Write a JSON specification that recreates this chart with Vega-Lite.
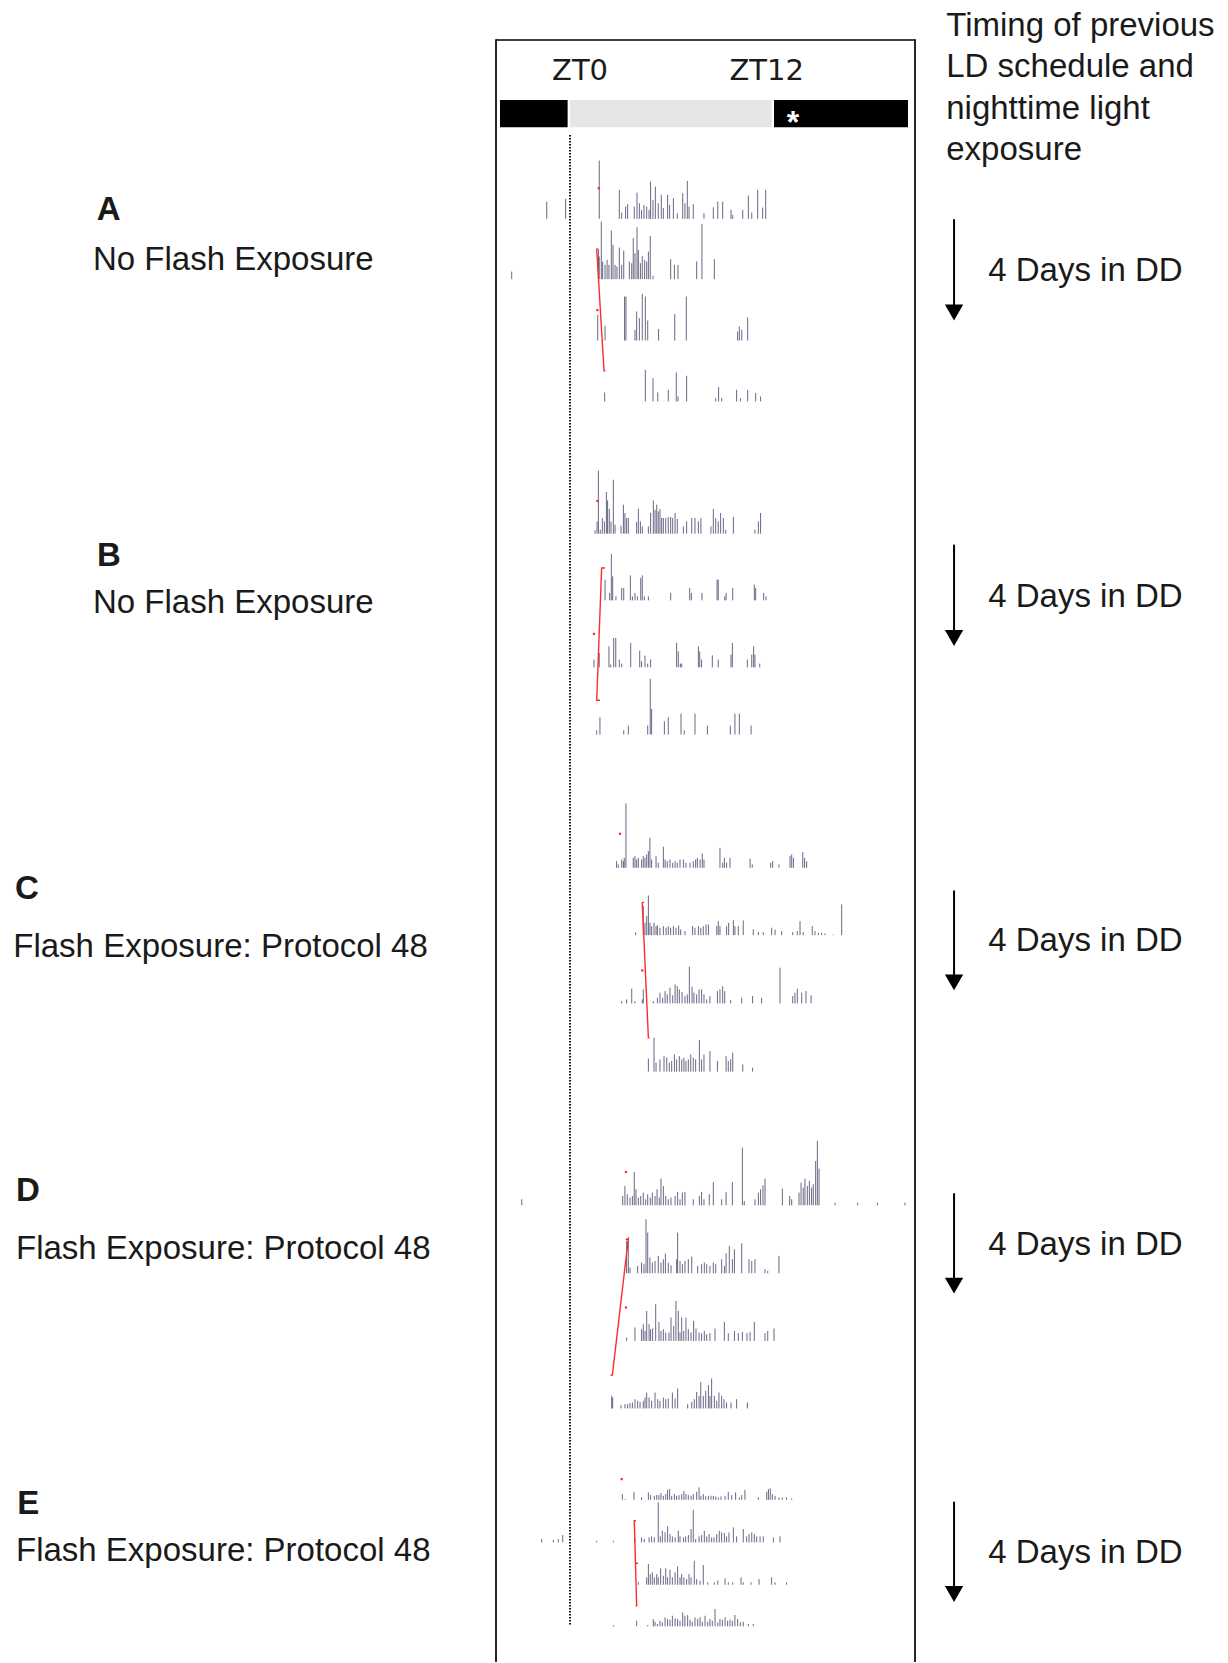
{
"$schema": "https://vega.github.io/schema/vega-lite/v6.json",
"width": 1228, "height": 1663,
"autosize": {"type": "fit", "contains": "padding"},
"padding": 0,
"background": "white",
"config": {"view": {"stroke": null}},
"datasets": {
"box": [
{"t":-4.294,"t2":-4.294,"y":39.15,"y2":1663},
{"t":20.353,"t2":20.353,"y":39.15,"y2":1663},
{"t":-4.294,"t2":20.353,"y":40,"y2":40}
],
"phases": [
{"t":-4.06,"t2":-0.08,"y":100,"y2":127.3,"ph":"dark"},
{"t":0.06,"t2":11.94,"y":100,"y2":127.3,"ph":"light"},
{"t":12.06,"t2":19.94,"y":100,"y2":127.3,"ph":"dark"}
],
"zt0line": [{"t":0.06,"y":135,"y2":1627}],
"bars": [
{"r":"A1","t":-1.31,"b":219,"u":201.7},{"r":"A1","t":-0.2,"b":219,"u":199},{"r":"A1","t":1.78,"b":219,"u":160.7},{"r":"A1","t":2.96,"b":219,"u":190},{"r":"A1","t":3.1,"b":219,"u":212.7},{"r":"A1","t":3.33,"b":219,"u":206.7},{"r":"A1","t":3.45,"b":219,"u":204.3},{"r":"A1","t":3.84,"b":219,"u":206.7},{"r":"A1","t":4.0,"b":219,"u":192.7},{"r":"A1","t":4.14,"b":219,"u":203.3},{"r":"A1","t":4.27,"b":219,"u":210},{"r":"A1","t":4.41,"b":219,"u":205},{"r":"A1","t":4.57,"b":219,"u":206.7},{"r":"A1","t":4.71,"b":219,"u":210},{"r":"A1","t":4.8,"b":219,"u":181.7},{"r":"A1","t":4.94,"b":219,"u":200},{"r":"A1","t":5.08,"b":219,"u":186.7},{"r":"A1","t":5.25,"b":219,"u":203.3},{"r":"A1","t":5.43,"b":219,"u":195},{"r":"A1","t":5.55,"b":219,"u":208.3},{"r":"A1","t":5.8,"b":219,"u":195},{"r":"A1","t":5.92,"b":219,"u":205},{"r":"A1","t":6.14,"b":219,"u":198.3},{"r":"A1","t":6.37,"b":219,"u":213.3},{"r":"A1","t":6.69,"b":219,"u":193.3},{"r":"A1","t":6.82,"b":219,"u":203.3},{"r":"A1","t":6.96,"b":219,"u":181},{"r":"A1","t":7.06,"b":219,"u":206.7},{"r":"A1","t":7.31,"b":219,"u":204.3},{"r":"A1","t":7.94,"b":219,"u":213.3},{"r":"A1","t":8.49,"b":219,"u":207.3},{"r":"A1","t":8.75,"b":219,"u":201.7},{"r":"A1","t":9.04,"b":219,"u":201.7},{"r":"A1","t":9.53,"b":219,"u":210},{"r":"A1","t":9.63,"b":219,"u":215},{"r":"A1","t":10.22,"b":219,"u":210},{"r":"A1","t":10.55,"b":219,"u":195.7},{"r":"A1","t":10.75,"b":219,"u":212.7},{"r":"A1","t":11.1,"b":219,"u":190},{"r":"A1","t":11.39,"b":219,"u":207.7},{"r":"A1","t":11.57,"b":219,"u":190},
{"r":"A2","t":-3.37,"b":279.3,"u":271.7},{"r":"A2","t":1.73,"b":279.3,"u":250},{"r":"A2","t":1.78,"b":279.3,"u":256.7},{"r":"A2","t":1.9,"b":279.3,"u":221.7},{"r":"A2","t":1.98,"b":279.3,"u":261.7},{"r":"A2","t":2.12,"b":279.3,"u":265},{"r":"A2","t":2.24,"b":279.3,"u":260},{"r":"A2","t":2.35,"b":279.3,"u":265},{"r":"A2","t":2.49,"b":279.3,"u":230.7},{"r":"A2","t":2.59,"b":279.3,"u":245},{"r":"A2","t":2.71,"b":279.3,"u":265},{"r":"A2","t":2.82,"b":279.3,"u":266.7},{"r":"A2","t":2.96,"b":279.3,"u":247.7},{"r":"A2","t":3.1,"b":279.3,"u":265},{"r":"A2","t":3.22,"b":279.3,"u":250.7},{"r":"A2","t":3.55,"b":279.3,"u":261.7},{"r":"A2","t":3.69,"b":279.3,"u":263.3},{"r":"A2","t":3.78,"b":279.3,"u":238.3},{"r":"A2","t":3.88,"b":279.3,"u":253.3},{"r":"A2","t":4.0,"b":279.3,"u":227.3},{"r":"A2","t":4.08,"b":279.3,"u":250},{"r":"A2","t":4.2,"b":279.3,"u":263.3},{"r":"A2","t":4.31,"b":279.3,"u":256},{"r":"A2","t":4.45,"b":279.3,"u":260},{"r":"A2","t":4.57,"b":279.3,"u":261.7},{"r":"A2","t":4.67,"b":279.3,"u":251.7},{"r":"A2","t":4.78,"b":279.3,"u":236},{"r":"A2","t":4.94,"b":279.3,"u":276},{"r":"A2","t":5.98,"b":279.3,"u":259.3},{"r":"A2","t":6.2,"b":279.3,"u":265},{"r":"A2","t":6.41,"b":279.3,"u":265},{"r":"A2","t":7.51,"b":279.3,"u":261.7},{"r":"A2","t":7.82,"b":279.3,"u":224},{"r":"A2","t":8.55,"b":279.3,"u":259.3},
{"r":"A3","t":1.69,"b":340.7,"u":315},{"r":"A3","t":2.12,"b":340.7,"u":326},{"r":"A3","t":3.27,"b":340.7,"u":296.7},{"r":"A3","t":3.35,"b":340.7,"u":296.7},{"r":"A3","t":3.88,"b":340.7,"u":330},{"r":"A3","t":3.98,"b":340.7,"u":311.7},{"r":"A3","t":4.14,"b":340.7,"u":318.3},{"r":"A3","t":4.31,"b":340.7,"u":294},{"r":"A3","t":4.49,"b":340.7,"u":296.7},{"r":"A3","t":4.63,"b":340.7,"u":320.7},{"r":"A3","t":5.27,"b":340.7,"u":329.3},{"r":"A3","t":6.22,"b":340.7,"u":314.3},{"r":"A3","t":6.9,"b":340.7,"u":296.7},{"r":"A3","t":9.92,"b":340.7,"u":331.7},{"r":"A3","t":10.02,"b":340.7,"u":326.7},{"r":"A3","t":10.16,"b":340.7,"u":330},{"r":"A3","t":10.51,"b":340.7,"u":317.7},
{"r":"A4","t":2.1,"b":401.7,"u":392.7},{"r":"A4","t":4.49,"b":401.7,"u":370},{"r":"A4","t":4.94,"b":401.7,"u":378.3},{"r":"A4","t":5.22,"b":401.7,"u":392.7},{"r":"A4","t":5.84,"b":401.7,"u":390},{"r":"A4","t":6.31,"b":401.7,"u":372.7},{"r":"A4","t":6.41,"b":401.7,"u":396.7},{"r":"A4","t":6.92,"b":401.7,"u":376},{"r":"A4","t":8.63,"b":401.7,"u":398.3},{"r":"A4","t":8.8,"b":401.7,"u":387.3},{"r":"A4","t":8.98,"b":401.7,"u":398.3},{"r":"A4","t":9.86,"b":401.7,"u":390},{"r":"A4","t":10.08,"b":401.7,"u":398.3},{"r":"A4","t":10.51,"b":401.7,"u":390},{"r":"A4","t":10.98,"b":401.7,"u":393.3},{"r":"A4","t":11.27,"b":401.7,"u":396.7},
{"r":"B1","t":1.53,"b":534,"u":530.7},{"r":"B1","t":1.65,"b":534,"u":521.7},{"r":"B1","t":1.73,"b":534,"u":471},{"r":"B1","t":1.84,"b":534,"u":530},{"r":"B1","t":1.96,"b":534,"u":518.3},{"r":"B1","t":2.08,"b":534,"u":521.7},{"r":"B1","t":2.2,"b":534,"u":492.3},{"r":"B1","t":2.27,"b":534,"u":500.7},{"r":"B1","t":2.37,"b":534,"u":509},{"r":"B1","t":2.47,"b":534,"u":521.7},{"r":"B1","t":2.61,"b":534,"u":480},{"r":"B1","t":2.71,"b":534,"u":525},{"r":"B1","t":3.06,"b":534,"u":526},{"r":"B1","t":3.2,"b":534,"u":505},{"r":"B1","t":3.29,"b":534,"u":513.3},{"r":"B1","t":3.39,"b":534,"u":518.3},{"r":"B1","t":3.49,"b":534,"u":518.3},{"r":"B1","t":3.98,"b":534,"u":522.3},{"r":"B1","t":4.08,"b":534,"u":509},{"r":"B1","t":4.2,"b":534,"u":521.7},{"r":"B1","t":4.31,"b":534,"u":526.7},{"r":"B1","t":4.67,"b":534,"u":526.7},{"r":"B1","t":4.8,"b":534,"u":513.3},{"r":"B1","t":4.96,"b":534,"u":500.7},{"r":"B1","t":5.06,"b":534,"u":510},{"r":"B1","t":5.16,"b":534,"u":505},{"r":"B1","t":5.25,"b":534,"u":511.7},{"r":"B1","t":5.35,"b":534,"u":509.3},{"r":"B1","t":5.45,"b":534,"u":518.3},{"r":"B1","t":5.55,"b":534,"u":518.3},{"r":"B1","t":5.69,"b":534,"u":518.3},{"r":"B1","t":5.84,"b":534,"u":517.3},{"r":"B1","t":5.98,"b":534,"u":517.3},{"r":"B1","t":6.1,"b":534,"u":518.3},{"r":"B1","t":6.24,"b":534,"u":513.3},{"r":"B1","t":6.37,"b":534,"u":519.3},{"r":"B1","t":6.73,"b":534,"u":526.7},{"r":"B1","t":6.92,"b":534,"u":521.7},{"r":"B1","t":7.22,"b":534,"u":518.3},{"r":"B1","t":7.41,"b":534,"u":518.3},{"r":"B1","t":7.61,"b":534,"u":521.7},{"r":"B1","t":7.76,"b":534,"u":518.3},{"r":"B1","t":8.35,"b":534,"u":526.7},{"r":"B1","t":8.49,"b":534,"u":509.3},{"r":"B1","t":8.63,"b":534,"u":518.3},{"r":"B1","t":8.78,"b":534,"u":521.7},{"r":"B1","t":8.92,"b":534,"u":513.3},{"r":"B1","t":9.08,"b":534,"u":518.3},{"r":"B1","t":9.22,"b":534,"u":530},{"r":"B1","t":9.67,"b":534,"u":517.3},{"r":"B1","t":10.94,"b":534,"u":530},{"r":"B1","t":11.14,"b":534,"u":521.7},{"r":"B1","t":11.27,"b":534,"u":513.3},
{"r":"B2","t":2.12,"b":600.7,"u":580},{"r":"B2","t":2.39,"b":600.7,"u":593.3},{"r":"B2","t":2.49,"b":600.7,"u":554.3},{"r":"B2","t":2.57,"b":600.7,"u":576.7},{"r":"B2","t":2.76,"b":600.7,"u":596.7},{"r":"B2","t":3.1,"b":600.7,"u":588.3},{"r":"B2","t":3.22,"b":600.7,"u":588.3},{"r":"B2","t":3.61,"b":600.7,"u":575.7},{"r":"B2","t":3.73,"b":600.7,"u":596.7},{"r":"B2","t":3.88,"b":600.7,"u":593.3},{"r":"B2","t":4.02,"b":600.7,"u":596.7},{"r":"B2","t":4.22,"b":600.7,"u":578.3},{"r":"B2","t":4.31,"b":600.7,"u":575.7},{"r":"B2","t":4.43,"b":600.7,"u":596.7},{"r":"B2","t":4.67,"b":600.7,"u":596.7},{"r":"B2","t":5.98,"b":600.7,"u":593.3},{"r":"B2","t":7.1,"b":600.7,"u":588.3},{"r":"B2","t":7.2,"b":600.7,"u":593.3},{"r":"B2","t":7.82,"b":600.7,"u":593.3},{"r":"B2","t":8.71,"b":600.7,"u":580},{"r":"B2","t":8.78,"b":600.7,"u":580},{"r":"B2","t":9.16,"b":600.7,"u":596.7},{"r":"B2","t":9.24,"b":600.7,"u":593.3},{"r":"B2","t":9.63,"b":600.7,"u":588.3},{"r":"B2","t":10.9,"b":600.7,"u":585},{"r":"B2","t":10.98,"b":600.7,"u":588.3},{"r":"B2","t":11.45,"b":600.7,"u":593.3},{"r":"B2","t":11.59,"b":600.7,"u":596.7},
{"r":"B3","t":1.47,"b":667.7,"u":660},{"r":"B3","t":1.78,"b":667.7,"u":653.3},{"r":"B3","t":2.35,"b":667.7,"u":646.7},{"r":"B3","t":2.45,"b":667.7,"u":665},{"r":"B3","t":2.63,"b":667.7,"u":638.3},{"r":"B3","t":2.75,"b":667.7,"u":638.3},{"r":"B3","t":2.96,"b":667.7,"u":660},{"r":"B3","t":3.1,"b":667.7,"u":664},{"r":"B3","t":3.63,"b":667.7,"u":643.3},{"r":"B3","t":4.16,"b":667.7,"u":651},{"r":"B3","t":4.27,"b":667.7,"u":661.7},{"r":"B3","t":4.47,"b":667.7,"u":656},{"r":"B3","t":4.63,"b":667.7,"u":664},{"r":"B3","t":4.8,"b":667.7,"u":660},{"r":"B3","t":6.33,"b":667.7,"u":643.3},{"r":"B3","t":6.43,"b":667.7,"u":651.7},{"r":"B3","t":6.55,"b":667.7,"u":664},{"r":"B3","t":6.63,"b":667.7,"u":664},{"r":"B3","t":7.61,"b":667.7,"u":646.7},{"r":"B3","t":7.69,"b":667.7,"u":651.7},{"r":"B3","t":7.8,"b":667.7,"u":660},{"r":"B3","t":8.43,"b":667.7,"u":655.7},{"r":"B3","t":8.78,"b":667.7,"u":660},{"r":"B3","t":9.53,"b":667.7,"u":655},{"r":"B3","t":9.61,"b":667.7,"u":643.3},{"r":"B3","t":10.49,"b":667.7,"u":660},{"r":"B3","t":10.75,"b":667.7,"u":655},{"r":"B3","t":10.86,"b":667.7,"u":646.7},{"r":"B3","t":10.94,"b":667.7,"u":655},{"r":"B3","t":11.22,"b":667.7,"u":664},
{"r":"B4","t":1.63,"b":735,"u":730.7},{"r":"B4","t":1.82,"b":735,"u":717.7},{"r":"B4","t":3.22,"b":735,"u":730.7},{"r":"B4","t":3.49,"b":735,"u":726},{"r":"B4","t":4.63,"b":735,"u":726},{"r":"B4","t":4.78,"b":735,"u":679.3},{"r":"B4","t":4.86,"b":735,"u":709.3},{"r":"B4","t":5.61,"b":735,"u":721.7},{"r":"B4","t":5.84,"b":735,"u":717.7},{"r":"B4","t":6.59,"b":735,"u":714},{"r":"B4","t":6.78,"b":735,"u":730.7},{"r":"B4","t":7.41,"b":735,"u":714},{"r":"B4","t":8.14,"b":735,"u":726},{"r":"B4","t":9.49,"b":735,"u":726},{"r":"B4","t":9.76,"b":735,"u":714},{"r":"B4","t":10.02,"b":735,"u":714},{"r":"B4","t":10.71,"b":735,"u":726},
{"r":"C1","t":2.8,"b":868.3,"u":861.7},{"r":"C1","t":2.9,"b":868.3,"u":865},{"r":"C1","t":3.1,"b":868.3,"u":860},{"r":"C1","t":3.2,"b":868.3,"u":861.7},{"r":"C1","t":3.25,"b":868.3,"u":858.3},{"r":"C1","t":3.35,"b":868.3,"u":804},{"r":"C1","t":3.78,"b":868.3,"u":858.3},{"r":"C1","t":3.88,"b":868.3,"u":856.7},{"r":"C1","t":3.98,"b":868.3,"u":860},{"r":"C1","t":4.08,"b":868.3,"u":858.3},{"r":"C1","t":4.27,"b":868.3,"u":860},{"r":"C1","t":4.37,"b":868.3,"u":856.7},{"r":"C1","t":4.47,"b":868.3,"u":858.3},{"r":"C1","t":4.57,"b":868.3,"u":855},{"r":"C1","t":4.67,"b":868.3,"u":851.7},{"r":"C1","t":4.76,"b":868.3,"u":838.3},{"r":"C1","t":4.86,"b":868.3,"u":860},{"r":"C1","t":5.12,"b":868.3,"u":856.7},{"r":"C1","t":5.25,"b":868.3,"u":863.3},{"r":"C1","t":5.55,"b":868.3,"u":847.3},{"r":"C1","t":5.65,"b":868.3,"u":860},{"r":"C1","t":5.78,"b":868.3,"u":861.7},{"r":"C1","t":5.94,"b":868.3,"u":860},{"r":"C1","t":6.1,"b":868.3,"u":863.3},{"r":"C1","t":6.24,"b":868.3,"u":861.7},{"r":"C1","t":6.37,"b":868.3,"u":863.3},{"r":"C1","t":6.53,"b":868.3,"u":860},{"r":"C1","t":6.73,"b":868.3,"u":860},{"r":"C1","t":6.88,"b":868.3,"u":863.3},{"r":"C1","t":7.12,"b":868.3,"u":863.3},{"r":"C1","t":7.31,"b":868.3,"u":861.7},{"r":"C1","t":7.45,"b":868.3,"u":860},{"r":"C1","t":7.55,"b":868.3,"u":858.3},{"r":"C1","t":7.71,"b":868.3,"u":860},{"r":"C1","t":7.84,"b":868.3,"u":854},{"r":"C1","t":7.94,"b":868.3,"u":860},{"r":"C1","t":8.88,"b":868.3,"u":848.3},{"r":"C1","t":9.04,"b":868.3,"u":863.3},{"r":"C1","t":9.14,"b":868.3,"u":858.3},{"r":"C1","t":9.27,"b":868.3,"u":863.3},{"r":"C1","t":9.47,"b":868.3,"u":858.3},{"r":"C1","t":10.65,"b":868.3,"u":859.3},{"r":"C1","t":10.78,"b":868.3,"u":865},{"r":"C1","t":11.86,"b":868.3,"u":863.3},{"r":"C1","t":11.98,"b":868.3,"u":861.7},{"r":"C1","t":12.35,"b":868.3,"u":865},{"r":"C1","t":13.0,"b":868.3,"u":856.7},{"r":"C1","t":13.1,"b":868.3,"u":855},{"r":"C1","t":13.2,"b":868.3,"u":858.3},{"r":"C1","t":13.75,"b":868.3,"u":852.7},{"r":"C1","t":13.86,"b":868.3,"u":858.3},{"r":"C1","t":13.98,"b":868.3,"u":861.7},
{"r":"C2","t":3.92,"b":935.7,"u":932.7},{"r":"C2","t":4.37,"b":935.7,"u":906.7},{"r":"C2","t":4.47,"b":935.7,"u":923.3},{"r":"C2","t":4.57,"b":935.7,"u":916.7},{"r":"C2","t":4.67,"b":935.7,"u":896},{"r":"C2","t":4.76,"b":935.7,"u":923.3},{"r":"C2","t":4.86,"b":935.7,"u":926.7},{"r":"C2","t":5.0,"b":935.7,"u":923.3},{"r":"C2","t":5.12,"b":935.7,"u":926.7},{"r":"C2","t":5.2,"b":935.7,"u":926},{"r":"C2","t":5.35,"b":935.7,"u":928.3},{"r":"C2","t":5.55,"b":935.7,"u":926.7},{"r":"C2","t":5.71,"b":935.7,"u":928.3},{"r":"C2","t":5.84,"b":935.7,"u":926.7},{"r":"C2","t":5.98,"b":935.7,"u":928.3},{"r":"C2","t":6.14,"b":935.7,"u":926.7},{"r":"C2","t":6.29,"b":935.7,"u":928.3},{"r":"C2","t":6.45,"b":935.7,"u":926},{"r":"C2","t":6.57,"b":935.7,"u":930},{"r":"C2","t":6.82,"b":935.7,"u":931.7},{"r":"C2","t":7.27,"b":935.7,"u":926.7},{"r":"C2","t":7.41,"b":935.7,"u":928.3},{"r":"C2","t":7.61,"b":935.7,"u":926.7},{"r":"C2","t":7.75,"b":935.7,"u":928.3},{"r":"C2","t":7.9,"b":935.7,"u":926.7},{"r":"C2","t":8.06,"b":935.7,"u":925},{"r":"C2","t":8.2,"b":935.7,"u":925},{"r":"C2","t":8.69,"b":935.7,"u":926.7},{"r":"C2","t":8.78,"b":935.7,"u":921.7},{"r":"C2","t":8.88,"b":935.7,"u":926.7},{"r":"C2","t":9.27,"b":935.7,"u":926.7},{"r":"C2","t":9.39,"b":935.7,"u":923.3},{"r":"C2","t":9.67,"b":935.7,"u":920.7},{"r":"C2","t":9.76,"b":935.7,"u":926.7},{"r":"C2","t":9.96,"b":935.7,"u":926.7},{"r":"C2","t":10.25,"b":935.7,"u":921},{"r":"C2","t":10.84,"b":935.7,"u":930},{"r":"C2","t":11.14,"b":935.7,"u":932.7},{"r":"C2","t":11.43,"b":935.7,"u":932.7},{"r":"C2","t":11.92,"b":935.7,"u":928.3},{"r":"C2","t":12.12,"b":935.7,"u":930},{"r":"C2","t":12.51,"b":935.7,"u":931.7},{"r":"C2","t":13.16,"b":935.7,"u":932.7},{"r":"C2","t":13.43,"b":935.7,"u":931.7},{"r":"C2","t":13.59,"b":935.7,"u":921.7},{"r":"C2","t":13.78,"b":935.7,"u":932.7},{"r":"C2","t":14.31,"b":935.7,"u":926.7},{"r":"C2","t":14.47,"b":935.7,"u":931.7},{"r":"C2","t":14.67,"b":935.7,"u":933.3},{"r":"C2","t":14.86,"b":935.7,"u":933.3},{"r":"C2","t":15.06,"b":935.7,"u":934},{"r":"C2","t":15.55,"b":935.7,"u":935},{"r":"C2","t":16.04,"b":935.7,"u":905},
{"r":"C3","t":3.1,"b":1004,"u":1001.7},{"r":"C3","t":3.39,"b":1004,"u":1000},{"r":"C3","t":3.69,"b":1004,"u":989.3},{"r":"C3","t":3.88,"b":1004,"u":1001.7},{"r":"C3","t":4.31,"b":1004,"u":1000},{"r":"C3","t":4.37,"b":1004,"u":990},{"r":"C3","t":4.96,"b":1004,"u":1001.7},{"r":"C3","t":5.2,"b":1004,"u":998.3},{"r":"C3","t":5.35,"b":1004,"u":993.3},{"r":"C3","t":5.51,"b":1004,"u":998.3},{"r":"C3","t":5.65,"b":1004,"u":991.7},{"r":"C3","t":5.78,"b":1004,"u":995},{"r":"C3","t":5.94,"b":1004,"u":988.3},{"r":"C3","t":6.1,"b":1004,"u":996},{"r":"C3","t":6.24,"b":1004,"u":985},{"r":"C3","t":6.37,"b":1004,"u":986.7},{"r":"C3","t":6.49,"b":1004,"u":990},{"r":"C3","t":6.65,"b":1004,"u":992.7},{"r":"C3","t":6.82,"b":1004,"u":996.7},{"r":"C3","t":6.96,"b":1004,"u":995},{"r":"C3","t":7.08,"b":1004,"u":967.3},{"r":"C3","t":7.24,"b":1004,"u":987.3},{"r":"C3","t":7.35,"b":1004,"u":993.3},{"r":"C3","t":7.51,"b":1004,"u":995},{"r":"C3","t":7.65,"b":1004,"u":990},{"r":"C3","t":7.8,"b":1004,"u":990},{"r":"C3","t":7.94,"b":1004,"u":995},{"r":"C3","t":8.1,"b":1004,"u":1000},{"r":"C3","t":8.29,"b":1004,"u":996.7},{"r":"C3","t":8.73,"b":1004,"u":991.7},{"r":"C3","t":8.88,"b":1004,"u":990},{"r":"C3","t":9.04,"b":1004,"u":986.7},{"r":"C3","t":9.16,"b":1004,"u":991.7},{"r":"C3","t":9.51,"b":1004,"u":1000.7},{"r":"C3","t":10.16,"b":1004,"u":998.3},{"r":"C3","t":10.8,"b":1004,"u":996.7},{"r":"C3","t":11.33,"b":1004,"u":998.3},{"r":"C3","t":12.41,"b":1004,"u":968.3},{"r":"C3","t":13.16,"b":1004,"u":996.7},{"r":"C3","t":13.29,"b":1004,"u":993.3},{"r":"C3","t":13.43,"b":1004,"u":989.3},{"r":"C3","t":13.69,"b":1004,"u":993.3},{"r":"C3","t":13.94,"b":1004,"u":991.7},{"r":"C3","t":14.24,"b":1004,"u":996},
{"r":"C4","t":4.67,"b":1072.3,"u":1059.3},{"r":"C4","t":5.0,"b":1072.3,"u":1038.3},{"r":"C4","t":5.12,"b":1072.3,"u":1063.3},{"r":"C4","t":5.35,"b":1072.3,"u":1060},{"r":"C4","t":5.59,"b":1072.3,"u":1056.7},{"r":"C4","t":5.75,"b":1072.3,"u":1058.3},{"r":"C4","t":5.9,"b":1072.3,"u":1063.3},{"r":"C4","t":6.04,"b":1072.3,"u":1061.7},{"r":"C4","t":6.2,"b":1072.3,"u":1055},{"r":"C4","t":6.33,"b":1072.3,"u":1060},{"r":"C4","t":6.49,"b":1072.3,"u":1056.7},{"r":"C4","t":6.63,"b":1072.3,"u":1060},{"r":"C4","t":6.76,"b":1072.3,"u":1058.3},{"r":"C4","t":6.88,"b":1072.3,"u":1061.7},{"r":"C4","t":7.02,"b":1072.3,"u":1060},{"r":"C4","t":7.16,"b":1072.3,"u":1055},{"r":"C4","t":7.31,"b":1072.3,"u":1058.3},{"r":"C4","t":7.45,"b":1072.3,"u":1060},{"r":"C4","t":7.67,"b":1072.3,"u":1040.7},{"r":"C4","t":7.8,"b":1072.3,"u":1060},{"r":"C4","t":7.94,"b":1072.3,"u":1055},{"r":"C4","t":8.29,"b":1072.3,"u":1051.7},{"r":"C4","t":8.73,"b":1072.3,"u":1061.7},{"r":"C4","t":9.24,"b":1072.3,"u":1056.7},{"r":"C4","t":9.37,"b":1072.3,"u":1061.7},{"r":"C4","t":9.51,"b":1072.3,"u":1060},{"r":"C4","t":9.63,"b":1072.3,"u":1053.3},{"r":"C4","t":10.22,"b":1072.3,"u":1065},{"r":"C4","t":10.8,"b":1072.3,"u":1068.3},
{"r":"D1","t":-2.78,"b":1206,"u":1200},{"r":"D1","t":3.16,"b":1206,"u":1196.7},{"r":"D1","t":3.29,"b":1206,"u":1186.7},{"r":"D1","t":3.43,"b":1206,"u":1195},{"r":"D1","t":3.59,"b":1206,"u":1198.3},{"r":"D1","t":3.73,"b":1206,"u":1196.7},{"r":"D1","t":3.84,"b":1206,"u":1172.7},{"r":"D1","t":3.94,"b":1206,"u":1190},{"r":"D1","t":4.08,"b":1206,"u":1198.3},{"r":"D1","t":4.22,"b":1206,"u":1196.7},{"r":"D1","t":4.37,"b":1206,"u":1193.3},{"r":"D1","t":4.51,"b":1206,"u":1200},{"r":"D1","t":4.63,"b":1206,"u":1195},{"r":"D1","t":4.78,"b":1206,"u":1198.3},{"r":"D1","t":4.9,"b":1206,"u":1193.3},{"r":"D1","t":5.06,"b":1206,"u":1196.7},{"r":"D1","t":5.18,"b":1206,"u":1190},{"r":"D1","t":5.31,"b":1206,"u":1198.3},{"r":"D1","t":5.41,"b":1206,"u":1179.3},{"r":"D1","t":5.55,"b":1206,"u":1186.7},{"r":"D1","t":5.69,"b":1206,"u":1196.7},{"r":"D1","t":5.84,"b":1206,"u":1200},{"r":"D1","t":6.0,"b":1206,"u":1198.3},{"r":"D1","t":6.24,"b":1206,"u":1196.7},{"r":"D1","t":6.39,"b":1206,"u":1192.7},{"r":"D1","t":6.53,"b":1206,"u":1200},{"r":"D1","t":6.67,"b":1206,"u":1193.3},{"r":"D1","t":6.82,"b":1206,"u":1192.7},{"r":"D1","t":7.31,"b":1206,"u":1200},{"r":"D1","t":7.67,"b":1206,"u":1196.7},{"r":"D1","t":7.8,"b":1206,"u":1192.7},{"r":"D1","t":7.94,"b":1206,"u":1200},{"r":"D1","t":8.25,"b":1206,"u":1195},{"r":"D1","t":8.49,"b":1206,"u":1182.7},{"r":"D1","t":8.98,"b":1206,"u":1200},{"r":"D1","t":9.24,"b":1206,"u":1192.7},{"r":"D1","t":9.61,"b":1206,"u":1182.7},{"r":"D1","t":10.2,"b":1206,"u":1148.3},{"r":"D1","t":10.31,"b":1206,"u":1201.7},{"r":"D1","t":10.94,"b":1206,"u":1200},{"r":"D1","t":11.14,"b":1206,"u":1193.3},{"r":"D1","t":11.27,"b":1206,"u":1190},{"r":"D1","t":11.41,"b":1206,"u":1186},{"r":"D1","t":11.53,"b":1206,"u":1179.3},{"r":"D1","t":12.55,"b":1206,"u":1189.3},{"r":"D1","t":12.98,"b":1206,"u":1196.7},{"r":"D1","t":13.1,"b":1206,"u":1200},{"r":"D1","t":13.53,"b":1206,"u":1193.3},{"r":"D1","t":13.65,"b":1206,"u":1183.3},{"r":"D1","t":13.78,"b":1206,"u":1188.3},{"r":"D1","t":13.88,"b":1206,"u":1179.3},{"r":"D1","t":14.02,"b":1206,"u":1186.7},{"r":"D1","t":14.14,"b":1206,"u":1181.7},{"r":"D1","t":14.27,"b":1206,"u":1188.3},{"r":"D1","t":14.37,"b":1206,"u":1185},{"r":"D1","t":14.51,"b":1206,"u":1161.7},{"r":"D1","t":14.61,"b":1206,"u":1141.7},{"r":"D1","t":14.71,"b":1206,"u":1169.3},{"r":"D1","t":15.65,"b":1206,"u":1203.3},{"r":"D1","t":16.98,"b":1206,"u":1203.3},{"r":"D1","t":18.14,"b":1206,"u":1203.3},{"r":"D1","t":19.76,"b":1206,"u":1203.3},
{"r":"D2","t":3.39,"b":1274,"u":1241.7},{"r":"D2","t":3.49,"b":1274,"u":1238.3},{"r":"D2","t":3.59,"b":1274,"u":1268.3},{"r":"D2","t":4.04,"b":1274,"u":1266.7},{"r":"D2","t":4.27,"b":1274,"u":1263.3},{"r":"D2","t":4.41,"b":1274,"u":1265},{"r":"D2","t":4.53,"b":1274,"u":1220},{"r":"D2","t":4.63,"b":1274,"u":1233.3},{"r":"D2","t":4.76,"b":1274,"u":1258.3},{"r":"D2","t":4.9,"b":1274,"u":1263.3},{"r":"D2","t":5.06,"b":1274,"u":1261.7},{"r":"D2","t":5.25,"b":1274,"u":1256.7},{"r":"D2","t":5.41,"b":1274,"u":1263.3},{"r":"D2","t":5.55,"b":1274,"u":1260},{"r":"D2","t":5.67,"b":1274,"u":1254.3},{"r":"D2","t":5.84,"b":1274,"u":1263.3},{"r":"D2","t":6.0,"b":1274,"u":1266},{"r":"D2","t":6.33,"b":1274,"u":1260},{"r":"D2","t":6.39,"b":1274,"u":1233.3},{"r":"D2","t":6.53,"b":1274,"u":1261.7},{"r":"D2","t":6.67,"b":1274,"u":1265},{"r":"D2","t":6.82,"b":1274,"u":1261.7},{"r":"D2","t":7.02,"b":1274,"u":1260},{"r":"D2","t":7.22,"b":1274,"u":1257.3},{"r":"D2","t":7.57,"b":1274,"u":1266.7},{"r":"D2","t":7.8,"b":1274,"u":1265},{"r":"D2","t":7.96,"b":1274,"u":1263.3},{"r":"D2","t":8.1,"b":1274,"u":1265},{"r":"D2","t":8.29,"b":1274,"u":1266.7},{"r":"D2","t":8.49,"b":1274,"u":1263.3},{"r":"D2","t":8.63,"b":1274,"u":1265},{"r":"D2","t":8.98,"b":1274,"u":1260},{"r":"D2","t":9.14,"b":1274,"u":1266.7},{"r":"D2","t":9.24,"b":1274,"u":1254},{"r":"D2","t":9.43,"b":1274,"u":1246.7},{"r":"D2","t":9.61,"b":1274,"u":1260},{"r":"D2","t":9.73,"b":1274,"u":1250},{"r":"D2","t":10.16,"b":1274,"u":1244},{"r":"D2","t":10.59,"b":1274,"u":1260},{"r":"D2","t":10.75,"b":1274,"u":1261.7},{"r":"D2","t":10.94,"b":1274,"u":1260},{"r":"D2","t":11.53,"b":1274,"u":1270},{"r":"D2","t":11.69,"b":1274,"u":1271.7},{"r":"D2","t":12.35,"b":1274,"u":1256.7},
{"r":"D3","t":3.39,"b":1341.7,"u":1338.3},{"r":"D3","t":3.88,"b":1341.7,"u":1328.3},{"r":"D3","t":4.27,"b":1341.7,"u":1330},{"r":"D3","t":4.37,"b":1341.7,"u":1325},{"r":"D3","t":4.47,"b":1341.7,"u":1331.7},{"r":"D3","t":4.57,"b":1341.7,"u":1311.7},{"r":"D3","t":4.71,"b":1341.7,"u":1325},{"r":"D3","t":4.8,"b":1341.7,"u":1330},{"r":"D3","t":4.92,"b":1341.7,"u":1329.3},{"r":"D3","t":5.1,"b":1341.7,"u":1305},{"r":"D3","t":5.29,"b":1341.7,"u":1322.7},{"r":"D3","t":5.41,"b":1341.7,"u":1331.7},{"r":"D3","t":5.55,"b":1341.7,"u":1330},{"r":"D3","t":5.69,"b":1341.7,"u":1333.3},{"r":"D3","t":5.88,"b":1341.7,"u":1333.3},{"r":"D3","t":6.0,"b":1341.7,"u":1318.3},{"r":"D3","t":6.16,"b":1341.7,"u":1326.7},{"r":"D3","t":6.29,"b":1341.7,"u":1301.7},{"r":"D3","t":6.43,"b":1341.7,"u":1311.7},{"r":"D3","t":6.53,"b":1341.7,"u":1333.3},{"r":"D3","t":6.63,"b":1341.7,"u":1318.3},{"r":"D3","t":6.75,"b":1341.7,"u":1331.7},{"r":"D3","t":6.88,"b":1341.7,"u":1318.3},{"r":"D3","t":7.02,"b":1341.7,"u":1330},{"r":"D3","t":7.18,"b":1341.7,"u":1333.3},{"r":"D3","t":7.33,"b":1341.7,"u":1321.7},{"r":"D3","t":7.47,"b":1341.7,"u":1329.3},{"r":"D3","t":7.65,"b":1341.7,"u":1333.3},{"r":"D3","t":7.8,"b":1341.7,"u":1334},{"r":"D3","t":7.96,"b":1341.7,"u":1331.7},{"r":"D3","t":8.1,"b":1341.7,"u":1335},{"r":"D3","t":8.29,"b":1341.7,"u":1334},{"r":"D3","t":8.59,"b":1341.7,"u":1329.3},{"r":"D3","t":9.14,"b":1341.7,"u":1322.7},{"r":"D3","t":9.37,"b":1341.7,"u":1334},{"r":"D3","t":9.73,"b":1341.7,"u":1331.7},{"r":"D3","t":9.96,"b":1341.7,"u":1334},{"r":"D3","t":10.2,"b":1341.7,"u":1332.7},{"r":"D3","t":10.47,"b":1341.7,"u":1334},{"r":"D3","t":10.65,"b":1341.7,"u":1332.7},{"r":"D3","t":10.9,"b":1341.7,"u":1322.7},{"r":"D3","t":11.53,"b":1341.7,"u":1334},{"r":"D3","t":11.69,"b":1341.7,"u":1331.7},{"r":"D3","t":12.06,"b":1341.7,"u":1329.3},
{"r":"D4","t":2.51,"b":1409.3,"u":1396.7},{"r":"D4","t":2.57,"b":1409.3,"u":1398.3},{"r":"D4","t":3.06,"b":1409.3,"u":1406},{"r":"D4","t":3.29,"b":1409.3,"u":1405},{"r":"D4","t":3.45,"b":1409.3,"u":1405},{"r":"D4","t":3.59,"b":1409.3,"u":1404},{"r":"D4","t":3.73,"b":1409.3,"u":1403.3},{"r":"D4","t":3.88,"b":1409.3,"u":1400},{"r":"D4","t":4.04,"b":1409.3,"u":1401.7},{"r":"D4","t":4.18,"b":1409.3,"u":1402.7},{"r":"D4","t":4.37,"b":1409.3,"u":1401.7},{"r":"D4","t":4.47,"b":1409.3,"u":1398.3},{"r":"D4","t":4.57,"b":1409.3,"u":1393.3},{"r":"D4","t":4.71,"b":1409.3,"u":1398.3},{"r":"D4","t":4.86,"b":1409.3,"u":1401.7},{"r":"D4","t":5.06,"b":1409.3,"u":1393.3},{"r":"D4","t":5.22,"b":1409.3,"u":1400},{"r":"D4","t":5.35,"b":1409.3,"u":1401.7},{"r":"D4","t":5.55,"b":1409.3,"u":1398.3},{"r":"D4","t":5.69,"b":1409.3,"u":1400},{"r":"D4","t":5.84,"b":1409.3,"u":1399.3},{"r":"D4","t":6.08,"b":1409.3,"u":1393.3},{"r":"D4","t":6.24,"b":1409.3,"u":1399.3},{"r":"D4","t":6.39,"b":1409.3,"u":1389.3},{"r":"D4","t":6.98,"b":1409.3,"u":1405},{"r":"D4","t":7.22,"b":1409.3,"u":1402.7},{"r":"D4","t":7.37,"b":1409.3,"u":1400},{"r":"D4","t":7.51,"b":1409.3,"u":1392.7},{"r":"D4","t":7.65,"b":1409.3,"u":1396.7},{"r":"D4","t":7.75,"b":1409.3,"u":1382.7},{"r":"D4","t":7.9,"b":1409.3,"u":1396.7},{"r":"D4","t":8.04,"b":1409.3,"u":1391.7},{"r":"D4","t":8.2,"b":1409.3,"u":1386},{"r":"D4","t":8.29,"b":1409.3,"u":1396.7},{"r":"D4","t":8.39,"b":1409.3,"u":1379.3},{"r":"D4","t":8.55,"b":1409.3,"u":1396.7},{"r":"D4","t":8.69,"b":1409.3,"u":1401.7},{"r":"D4","t":8.82,"b":1409.3,"u":1393.3},{"r":"D4","t":8.98,"b":1409.3,"u":1396.7},{"r":"D4","t":9.12,"b":1409.3,"u":1400},{"r":"D4","t":9.27,"b":1409.3,"u":1403.3},{"r":"D4","t":9.53,"b":1409.3,"u":1403.3},{"r":"D4","t":9.86,"b":1409.3,"u":1400},{"r":"D4","t":10.49,"b":1409.3,"u":1403.3},
{"r":"E1","t":3.14,"b":1500.7,"u":1495},{"r":"E1","t":3.29,"b":1500.7,"u":1500},{"r":"E1","t":3.82,"b":1500.7,"u":1492.7},{"r":"E1","t":4.27,"b":1500.7,"u":1498.3},{"r":"E1","t":4.67,"b":1500.7,"u":1493.3},{"r":"E1","t":4.8,"b":1500.7,"u":1496},{"r":"E1","t":5.02,"b":1500.7,"u":1496.7},{"r":"E1","t":5.16,"b":1500.7,"u":1496},{"r":"E1","t":5.29,"b":1500.7,"u":1496},{"r":"E1","t":5.41,"b":1500.7,"u":1494},{"r":"E1","t":5.55,"b":1500.7,"u":1496.7},{"r":"E1","t":5.69,"b":1500.7,"u":1495},{"r":"E1","t":5.8,"b":1500.7,"u":1490.7},{"r":"E1","t":5.92,"b":1500.7,"u":1490},{"r":"E1","t":6.04,"b":1500.7,"u":1496.7},{"r":"E1","t":6.2,"b":1500.7,"u":1495},{"r":"E1","t":6.33,"b":1500.7,"u":1496.7},{"r":"E1","t":6.47,"b":1500.7,"u":1496},{"r":"E1","t":6.63,"b":1500.7,"u":1495},{"r":"E1","t":6.76,"b":1500.7,"u":1491.7},{"r":"E1","t":6.88,"b":1500.7,"u":1495},{"r":"E1","t":7.02,"b":1500.7,"u":1496},{"r":"E1","t":7.18,"b":1500.7,"u":1496.7},{"r":"E1","t":7.31,"b":1500.7,"u":1495},{"r":"E1","t":7.51,"b":1500.7,"u":1492.7},{"r":"E1","t":7.65,"b":1500.7,"u":1488.3},{"r":"E1","t":7.76,"b":1500.7,"u":1496.7},{"r":"E1","t":7.9,"b":1500.7,"u":1495},{"r":"E1","t":8.04,"b":1500.7,"u":1497.3},{"r":"E1","t":8.2,"b":1500.7,"u":1496.7},{"r":"E1","t":8.35,"b":1500.7,"u":1496.7},{"r":"E1","t":8.49,"b":1500.7,"u":1496.7},{"r":"E1","t":8.63,"b":1500.7,"u":1497.3},{"r":"E1","t":8.78,"b":1500.7,"u":1498.3},{"r":"E1","t":8.94,"b":1500.7,"u":1497.3},{"r":"E1","t":9.18,"b":1500.7,"u":1496.7},{"r":"E1","t":9.37,"b":1500.7,"u":1492.7},{"r":"E1","t":9.57,"b":1500.7,"u":1496},{"r":"E1","t":9.8,"b":1500.7,"u":1493.3},{"r":"E1","t":10.02,"b":1500.7,"u":1498.3},{"r":"E1","t":10.16,"b":1500.7,"u":1496},{"r":"E1","t":10.35,"b":1500.7,"u":1490.7},{"r":"E1","t":11.14,"b":1500.7,"u":1498.3},{"r":"E1","t":11.63,"b":1500.7,"u":1492.7},{"r":"E1","t":11.73,"b":1500.7,"u":1490},{"r":"E1","t":11.84,"b":1500.7,"u":1489.3},{"r":"E1","t":11.96,"b":1500.7,"u":1495},{"r":"E1","t":12.12,"b":1500.7,"u":1496.7},{"r":"E1","t":12.35,"b":1500.7,"u":1498.3},{"r":"E1","t":12.55,"b":1500.7,"u":1498.3},{"r":"E1","t":12.8,"b":1500.7,"u":1498.3},{"r":"E1","t":13.1,"b":1500.7,"u":1499.3},
{"r":"E2","t":-1.61,"b":1543.3,"u":1540},{"r":"E2","t":-0.92,"b":1543.3,"u":1540.7},{"r":"E2","t":-0.63,"b":1543.3,"u":1540},{"r":"E2","t":-0.37,"b":1543.3,"u":1536},{"r":"E2","t":1.63,"b":1543.3,"u":1541.7},{"r":"E2","t":2.61,"b":1543.3,"u":1541.7},{"r":"E2","t":3.88,"b":1543.3,"u":1539.3},{"r":"E2","t":4.27,"b":1543.3,"u":1538.3},{"r":"E2","t":4.43,"b":1543.3,"u":1540},{"r":"E2","t":4.71,"b":1543.3,"u":1538.3},{"r":"E2","t":4.86,"b":1543.3,"u":1537.3},{"r":"E2","t":5.02,"b":1543.3,"u":1538.3},{"r":"E2","t":5.25,"b":1543.3,"u":1503.3},{"r":"E2","t":5.37,"b":1543.3,"u":1537.3},{"r":"E2","t":5.49,"b":1543.3,"u":1531.7},{"r":"E2","t":5.65,"b":1543.3,"u":1533.3},{"r":"E2","t":5.8,"b":1543.3,"u":1527.3},{"r":"E2","t":5.94,"b":1543.3,"u":1535},{"r":"E2","t":6.08,"b":1543.3,"u":1537.3},{"r":"E2","t":6.24,"b":1543.3,"u":1538.3},{"r":"E2","t":6.43,"b":1543.3,"u":1531.7},{"r":"E2","t":6.53,"b":1543.3,"u":1537.3},{"r":"E2","t":6.73,"b":1543.3,"u":1538.3},{"r":"E2","t":6.86,"b":1543.3,"u":1537.3},{"r":"E2","t":7.02,"b":1543.3,"u":1536},{"r":"E2","t":7.18,"b":1543.3,"u":1530},{"r":"E2","t":7.31,"b":1543.3,"u":1510.7},{"r":"E2","t":7.45,"b":1543.3,"u":1540},{"r":"E2","t":7.65,"b":1543.3,"u":1537.3},{"r":"E2","t":7.8,"b":1543.3,"u":1536},{"r":"E2","t":7.96,"b":1543.3,"u":1531.7},{"r":"E2","t":8.1,"b":1543.3,"u":1537.3},{"r":"E2","t":8.24,"b":1543.3,"u":1535},{"r":"E2","t":8.39,"b":1543.3,"u":1538.3},{"r":"E2","t":8.53,"b":1543.3,"u":1538.3},{"r":"E2","t":8.69,"b":1543.3,"u":1535},{"r":"E2","t":8.84,"b":1543.3,"u":1531.7},{"r":"E2","t":8.98,"b":1543.3,"u":1533.3},{"r":"E2","t":9.14,"b":1543.3,"u":1534},{"r":"E2","t":9.27,"b":1543.3,"u":1537.3},{"r":"E2","t":9.41,"b":1543.3,"u":1533.3},{"r":"E2","t":9.67,"b":1543.3,"u":1528.3},{"r":"E2","t":9.86,"b":1543.3,"u":1537.3},{"r":"E2","t":10.25,"b":1543.3,"u":1530},{"r":"E2","t":10.45,"b":1543.3,"u":1537.3},{"r":"E2","t":10.59,"b":1543.3,"u":1535},{"r":"E2","t":10.75,"b":1543.3,"u":1533.3},{"r":"E2","t":10.9,"b":1543.3,"u":1535},{"r":"E2","t":11.04,"b":1543.3,"u":1537.3},{"r":"E2","t":11.24,"b":1543.3,"u":1537.3},{"r":"E2","t":11.43,"b":1543.3,"u":1537.3},{"r":"E2","t":12.02,"b":1543.3,"u":1538.3},{"r":"E2","t":12.41,"b":1543.3,"u":1537.3},
{"r":"E3","t":4.08,"b":1585.7,"u":1583.3},{"r":"E3","t":4.57,"b":1585.7,"u":1578.3},{"r":"E3","t":4.67,"b":1585.7,"u":1565},{"r":"E3","t":4.78,"b":1585.7,"u":1575},{"r":"E3","t":4.9,"b":1585.7,"u":1573.3},{"r":"E3","t":5.02,"b":1585.7,"u":1578.3},{"r":"E3","t":5.16,"b":1585.7,"u":1575},{"r":"E3","t":5.25,"b":1585.7,"u":1578.3},{"r":"E3","t":5.39,"b":1585.7,"u":1569.3},{"r":"E3","t":5.55,"b":1585.7,"u":1576.7},{"r":"E3","t":5.69,"b":1585.7,"u":1569.3},{"r":"E3","t":5.8,"b":1585.7,"u":1578.3},{"r":"E3","t":5.94,"b":1585.7,"u":1570.7},{"r":"E3","t":6.08,"b":1585.7,"u":1578.3},{"r":"E3","t":6.24,"b":1585.7,"u":1573.3},{"r":"E3","t":6.39,"b":1585.7,"u":1567.3},{"r":"E3","t":6.53,"b":1585.7,"u":1578.3},{"r":"E3","t":6.63,"b":1585.7,"u":1575},{"r":"E3","t":6.76,"b":1585.7,"u":1578.3},{"r":"E3","t":6.92,"b":1585.7,"u":1580},{"r":"E3","t":7.06,"b":1585.7,"u":1575},{"r":"E3","t":7.18,"b":1585.7,"u":1578.3},{"r":"E3","t":7.37,"b":1585.7,"u":1561.7},{"r":"E3","t":7.51,"b":1585.7,"u":1580},{"r":"E3","t":7.71,"b":1585.7,"u":1581.7},{"r":"E3","t":7.9,"b":1585.7,"u":1566},{"r":"E3","t":8.16,"b":1585.7,"u":1583.3},{"r":"E3","t":8.55,"b":1585.7,"u":1583.3},{"r":"E3","t":8.75,"b":1585.7,"u":1581.7},{"r":"E3","t":9.18,"b":1585.7,"u":1579.3},{"r":"E3","t":9.37,"b":1585.7,"u":1583.3},{"r":"E3","t":9.63,"b":1585.7,"u":1583.3},{"r":"E3","t":10.12,"b":1585.7,"u":1578.3},{"r":"E3","t":10.25,"b":1585.7,"u":1583.3},{"r":"E3","t":10.71,"b":1585.7,"u":1583.3},{"r":"E3","t":11.18,"b":1585.7,"u":1580},{"r":"E3","t":11.92,"b":1585.7,"u":1578.3},{"r":"E3","t":12.12,"b":1585.7,"u":1583.3},{"r":"E3","t":12.8,"b":1585.7,"u":1583.3},
{"r":"E4","t":2.61,"b":1627.3,"u":1626},{"r":"E4","t":3.98,"b":1627.3,"u":1621.7},{"r":"E4","t":4.63,"b":1627.3,"u":1626},{"r":"E4","t":4.96,"b":1627.3,"u":1620},{"r":"E4","t":5.06,"b":1627.3,"u":1622.7},{"r":"E4","t":5.2,"b":1627.3,"u":1625},{"r":"E4","t":5.35,"b":1627.3,"u":1621.7},{"r":"E4","t":5.49,"b":1627.3,"u":1623.3},{"r":"E4","t":5.65,"b":1627.3,"u":1618.3},{"r":"E4","t":5.8,"b":1627.3,"u":1620},{"r":"E4","t":5.94,"b":1627.3,"u":1620.7},{"r":"E4","t":6.08,"b":1627.3,"u":1616.7},{"r":"E4","t":6.24,"b":1627.3,"u":1619.3},{"r":"E4","t":6.39,"b":1627.3,"u":1620},{"r":"E4","t":6.53,"b":1627.3,"u":1621.7},{"r":"E4","t":6.69,"b":1627.3,"u":1613.3},{"r":"E4","t":6.82,"b":1627.3,"u":1616.7},{"r":"E4","t":6.98,"b":1627.3,"u":1616},{"r":"E4","t":7.12,"b":1627.3,"u":1620.7},{"r":"E4","t":7.25,"b":1627.3,"u":1622.7},{"r":"E4","t":7.41,"b":1627.3,"u":1618.3},{"r":"E4","t":7.57,"b":1627.3,"u":1620},{"r":"E4","t":7.71,"b":1627.3,"u":1618.3},{"r":"E4","t":7.84,"b":1627.3,"u":1622.7},{"r":"E4","t":8.0,"b":1627.3,"u":1616.7},{"r":"E4","t":8.16,"b":1627.3,"u":1622.7},{"r":"E4","t":8.29,"b":1627.3,"u":1620},{"r":"E4","t":8.43,"b":1627.3,"u":1621.7},{"r":"E4","t":8.59,"b":1627.3,"u":1610},{"r":"E4","t":8.75,"b":1627.3,"u":1623.3},{"r":"E4","t":8.88,"b":1627.3,"u":1620},{"r":"E4","t":9.02,"b":1627.3,"u":1620.7},{"r":"E4","t":9.18,"b":1627.3,"u":1618.3},{"r":"E4","t":9.33,"b":1627.3,"u":1621.7},{"r":"E4","t":9.47,"b":1627.3,"u":1620.7},{"r":"E4","t":9.61,"b":1627.3,"u":1621.7},{"r":"E4","t":9.76,"b":1627.3,"u":1616},{"r":"E4","t":9.92,"b":1627.3,"u":1620},{"r":"E4","t":10.08,"b":1627.3,"u":1623.3},{"r":"E4","t":10.25,"b":1627.3,"u":1622.7},{"r":"E4","t":10.55,"b":1627.3,"u":1625},{"r":"E4","t":10.84,"b":1627.3,"u":1625}
],
"onsetLines": [
{"s":"A","o":1,"t":1.75,"y":249.3},{"s":"A","o":2,"t":1.63,"y":249.3},{"s":"A","o":3,"t":2.06,"y":371},{"s":"A","o":4,"t":2.14,"y":371},
{"s":"B","o":1,"t":2.12,"y":568.3},{"s":"B","o":2,"t":1.92,"y":568.3},{"s":"B","o":3,"t":1.63,"y":700.7},{"s":"B","o":4,"t":1.82,"y":700.7},
{"s":"C","o":1,"t":4.41,"y":902.7},{"s":"C","o":2,"t":4.31,"y":903.3},{"s":"C","o":3,"t":4.67,"y":1038.3},{"s":"C","o":4,"t":4.73,"y":1038.3},
{"s":"D","o":1,"t":3.33,"y":1240.7},{"s":"D","o":2,"t":3.49,"y":1239.3},{"s":"D","o":3,"t":2.55,"y":1376},{"s":"D","o":4,"t":2.43,"y":1376},
{"s":"E","o":1,"t":3.94,"y":1521.7},{"s":"E","o":2,"t":3.84,"y":1521.7},{"s":"E","o":3,"t":3.98,"y":1606.7},{"s":"E","o":4,"t":3.92,"y":1606.7},
{"s":"E2","o":1,"t":3.9,"y":1564.3},{"s":"E2","o":2,"t":4.06,"y":1564.3}
],
"onsetDots": [
{"t":1.75,"y":188.3},{"t":1.67,"y":310.3},{"t":1.67,"y":501.3},{"t":1.47,"y":634.3},{"t":3.0,"y":834.3},{"t":4.31,"y":971},{"t":3.35,"y":1172.7},{"t":3.35,"y":1308.3},{"t":3.1,"y":1480}
],
"arrows": [
{"t":22.65,"y":219.3,"y2":313,"yc":312.7},
{"t":22.65,"y":545,"y2":638,"yc":638.4},
{"t":22.65,"y":891,"y2":983,"yc":983},
{"t":22.65,"y":1194,"y2":1286,"yc":1286.4},
{"t":22.65,"y":1502.6,"y2":1595,"yc":1595}
],
"letters": [
{"t":-27.78,"y":220,"s":"A"},{"t":-27.76,"y":566,"s":"B"},{"t":-32.59,"y":900,"s":"C"},{"t":-32.53,"y":1201.7,"s":"D"},{"t":-32.45,"y":1515,"s":"E"}
],
"texts": [
{"t":-28.0,"y":270,"s":"No Flash Exposure"},
{"t":-28.0,"y":613.3,"s":"No Flash Exposure"},
{"t":-32.69,"y":957.3,"s":"Flash Exposure: Protocol 48"},
{"t":-32.53,"y":1260,"s":"Flash Exposure: Protocol 48"},
{"t":-32.53,"y":1561.7,"s":"Flash Exposure: Protocol 48"},
{"t":22.19,"y":36,"s":"Timing of previous"},
{"t":22.19,"y":77.5,"s":"LD schedule and"},
{"t":22.19,"y":119,"s":"nighttime light"},
{"t":22.19,"y":160.5,"s":"exposure"},
{"t":24.66,"y":281,"s":"4 Days in DD"},
{"t":24.66,"y":607.3,"s":"4 Days in DD"},
{"t":24.66,"y":952,"s":"4 Days in DD"},
{"t":24.66,"y":1255.5,"s":"4 Days in DD"},
{"t":24.66,"y":1564,"s":"4 Days in DD"}
],
"zt": [{"t":0.65,"y":80.5,"s":"ZT0"},{"t":11.63,"y":80.5,"s":"ZT12"}],
"star": [{"t":13.18,"y":133,"s":"*"}]
},
"layer": [
{
"data": {"name": "phases"},
"mark": {"type": "rect"},
"encoding": {
"x": {"field": "t", "type": "quantitative", "scale": {"domain": [-33.4706, 38.7647], "nice": false, "zero": false}, "axis": null},
"x2": {"field": "t2"},
"y": {"field": "y", "type": "quantitative", "scale": {"domain": [0, 1663], "reverse": true, "nice": false, "zero": false}, "axis": null},
"y2": {"field": "y2"},
"color": {"field": "ph", "type": "nominal", "scale": {"domain": ["dark", "light"], "range": ["#000000", "#e6e6e6"]}, "legend": null}
}
},
{
"data": {"name": "box"},
"mark": {"type": "rule", "color": "#000000", "strokeWidth": 1.7, "strokeCap": "butt"},
"encoding": {
"x": {"field": "t", "type": "quantitative", "scale": {"domain": [-33.4706, 38.7647], "nice": false, "zero": false}, "axis": null},
"x2": {"field": "t2"},
"y": {"field": "y", "type": "quantitative", "scale": {"domain": [0, 1663], "reverse": true, "nice": false, "zero": false}, "axis": null},
"y2": {"field": "y2"}
}
},
{
"data": {"name": "zt0line"},
"mark": {"type": "rule", "color": "#111111", "strokeWidth": 2, "strokeDash": [1.5, 1.5]},
"encoding": {
"x": {"field": "t", "type": "quantitative", "scale": {"domain": [-33.4706, 38.7647], "nice": false, "zero": false}, "axis": null},
"y": {"field": "y", "type": "quantitative", "scale": {"domain": [0, 1663], "reverse": true, "nice": false, "zero": false}, "axis": null},
"y2": {"field": "y2"}
}
},
{
"data": {"name": "bars"},
"mark": {"type": "rule", "color": "#34345e", "strokeWidth": 1, "opacity": 0.75},
"encoding": {
"x": {"field": "t", "type": "quantitative", "scale": {"domain": [-33.4706, 38.7647], "nice": false, "zero": false}, "axis": null},
"y": {"field": "u", "type": "quantitative", "scale": {"domain": [0, 1663], "reverse": true, "nice": false, "zero": false}, "axis": null},
"y2": {"field": "b"}
}
},
{
"data": {"name": "onsetLines"},
"mark": {"type": "line", "color": "#ff2b2b", "strokeWidth": 1.4},
"encoding": {
"x": {"field": "t", "type": "quantitative", "scale": {"domain": [-33.4706, 38.7647], "nice": false, "zero": false}, "axis": null},
"y": {"field": "y", "type": "quantitative", "scale": {"domain": [0, 1663], "reverse": true, "nice": false, "zero": false}, "axis": null},
"detail": {"field": "s", "type": "nominal"},
"order": {"field": "o", "type": "quantitative"}
}
},
{
"data": {"name": "onsetDots"},
"mark": {"type": "square", "color": "#ff2b2b", "size": 5, "opacity": 1},
"encoding": {
"x": {"field": "t", "type": "quantitative", "scale": {"domain": [-33.4706, 38.7647], "nice": false, "zero": false}, "axis": null},
"y": {"field": "y", "type": "quantitative", "scale": {"domain": [0, 1663], "reverse": true, "nice": false, "zero": false}, "axis": null}
}
},
{
"data": {"name": "arrows"},
"mark": {"type": "rule", "color": "#000000", "strokeWidth": 2},
"encoding": {
"x": {"field": "t", "type": "quantitative", "scale": {"domain": [-33.4706, 38.7647], "nice": false, "zero": false}, "axis": null},
"y": {"field": "y", "type": "quantitative", "scale": {"domain": [0, 1663], "reverse": true, "nice": false, "zero": false}, "axis": null},
"y2": {"field": "y2"}
}
},
{
"data": {"name": "arrows"},
"mark": {"type": "point", "shape": "triangle-down", "filled": true, "color": "#000000", "size": 335, "opacity": 1, "strokeWidth": 0},
"encoding": {
"x": {"field": "t", "type": "quantitative", "scale": {"domain": [-33.4706, 38.7647], "nice": false, "zero": false}, "axis": null},
"y": {"field": "yc", "type": "quantitative", "scale": {"domain": [0, 1663], "reverse": true, "nice": false, "zero": false}, "axis": null}
}
},
{
"data": {"name": "letters"},
"mark": {"type": "text", "font": "Liberation Sans", "fontSize": 33, "fontWeight": "bold", "align": "left", "baseline": "alphabetic", "color": "#1a1a1a"},
"encoding": {
"x": {"field": "t", "type": "quantitative", "scale": {"domain": [-33.4706, 38.7647], "nice": false, "zero": false}, "axis": null},
"y": {"field": "y", "type": "quantitative", "scale": {"domain": [0, 1663], "reverse": true, "nice": false, "zero": false}, "axis": null},
"text": {"field": "s", "type": "nominal"}
}
},
{
"data": {"name": "texts"},
"mark": {"type": "text", "font": "Liberation Sans", "fontSize": 33, "align": "left", "baseline": "alphabetic", "color": "#1a1a1a"},
"encoding": {
"x": {"field": "t", "type": "quantitative", "scale": {"domain": [-33.4706, 38.7647], "nice": false, "zero": false}, "axis": null},
"y": {"field": "y", "type": "quantitative", "scale": {"domain": [0, 1663], "reverse": true, "nice": false, "zero": false}, "axis": null},
"text": {"field": "s", "type": "nominal"}
}
},
{
"data": {"name": "zt"},
"mark": {"type": "text", "font": "DejaVu Sans", "fontSize": 29, "align": "center", "baseline": "alphabetic", "color": "#1a1a1a"},
"encoding": {
"x": {"field": "t", "type": "quantitative", "scale": {"domain": [-33.4706, 38.7647], "nice": false, "zero": false}, "axis": null},
"y": {"field": "y", "type": "quantitative", "scale": {"domain": [0, 1663], "reverse": true, "nice": false, "zero": false}, "axis": null},
"text": {"field": "s", "type": "nominal"}
}
},
{
"data": {"name": "star"},
"mark": {"type": "text", "font": "Liberation Sans", "fontSize": 32, "fontWeight": "bold", "align": "center", "baseline": "alphabetic", "color": "#ffffff"},
"encoding": {
"x": {"field": "t", "type": "quantitative", "scale": {"domain": [-33.4706, 38.7647], "nice": false, "zero": false}, "axis": null},
"y": {"field": "y", "type": "quantitative", "scale": {"domain": [0, 1663], "reverse": true, "nice": false, "zero": false}, "axis": null},
"text": {"field": "s", "type": "nominal"}
}
}
]
}
